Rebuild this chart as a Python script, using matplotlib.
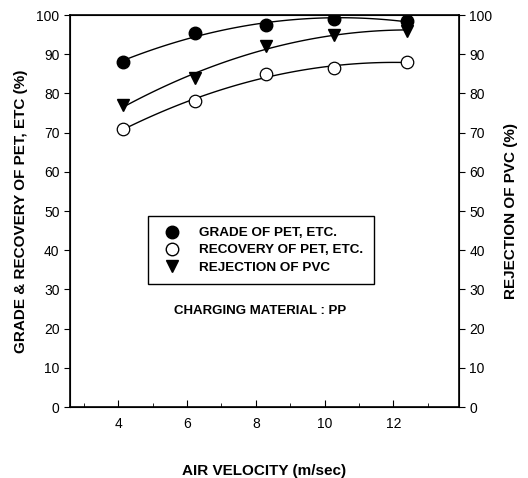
import numpy as np
import matplotlib
matplotlib.use('Agg')
import matplotlib.pyplot as plt
from matplotlib.lines import Line2D

plt.rcParams['font.family'] = ['Liberation Sans', 'DejaVu Sans']

# air velocity (m/sec)
velocity = [4.15, 6.23, 8.29, 10.26, 12.4]
grade = [88.0, 95.5, 97.5, 99.0, 98.5]
recovery = [71.0, 78.0, 85.0, 86.5, 88.0]
rejection = [77.0, 84.0, 92.0, 95.0, 96.0]

fig = plt.figure(figsize=(5.28, 4.78), dpi=100)
ax = fig.add_axes([0.1326, 0.1485, 0.7365, 0.820])

xs = np.linspace(velocity[0], velocity[-1], 100)
for ys in (grade, recovery, rejection):
    c = np.polyfit(velocity, ys, 2)
    ax.plot(xs, np.polyval(c, xs), color='black', lw=1.0, zorder=1)

ax.plot(velocity, grade, 'o', ms=9, mfc='black', mec='black', zorder=3)
ax.plot(velocity, recovery, 'o', ms=9, mfc='white', mec='black', mew=0.9, zorder=3)
ax.plot(velocity, rejection, 'v', ms=9, mfc='black', mec='black', zorder=3)

ax.set_xlim(2.6, 13.9)
ax.set_ylim(0, 100)
ax.set_xticks([4, 6, 8, 10, 12])
ax.set_xticks([3, 5, 7, 9, 11, 13], minor=True)
ax.set_yticks(range(0, 101, 10))
ax.tick_params(axis='x', which='both', direction='in', pad=7, labelsize=10)
ax.tick_params(axis='x', which='major', length=5)
ax.tick_params(axis='x', which='minor', length=3)
ax.tick_params(axis='y', direction='out', length=4, labelsize=10)
for s in ax.spines.values():
    s.set_linewidth(1.2)

ax2 = ax.twinx()
ax2.set_ylim(0, 100)
ax2.set_yticks(range(0, 101, 10))
ax2.tick_params(axis='y', direction='out', length=4, labelsize=10)

ax.set_xlabel('AIR VELOCITY (m/sec)', fontsize=11, fontweight='bold', labelpad=24)
ax.set_ylabel('GRADE & RECOVERY OF PET, ETC (%)', fontsize=11, fontweight='bold', labelpad=6)
ax2.set_ylabel('REJECTION OF PVC (%)', fontsize=11, fontweight='bold', labelpad=8)

handles = [
    Line2D([], [], ls='none', marker='o', ms=9, mfc='black', mec='black'),
    Line2D([], [], ls='none', marker='o', ms=9, mfc='white', mec='black'),
    Line2D([], [], ls='none', marker='v', ms=9, mfc='black', mec='black'),
]
labels = ['GRADE OF PET, ETC.', 'RECOVERY OF PET, ETC.', 'REJECTION OF PVC']
leg = ax.legend(handles, labels, loc='upper left', bbox_to_anchor=(0.2, 0.487),
                frameon=True, fancybox=False, edgecolor='black', framealpha=1,
                prop={'weight': 'bold', 'size': 9.7}, handletextpad=1.0,
                labelspacing=0.35, borderpad=0.8, borderaxespad=0)
leg.get_frame().set_linewidth(1.0)

ax.text(0.49, 0.245, 'CHARGING MATERIAL : PP', transform=ax.transAxes,
        ha='center', va='center', fontsize=9.5, fontweight='bold')

fig.savefig('out.png', dpi=100)
